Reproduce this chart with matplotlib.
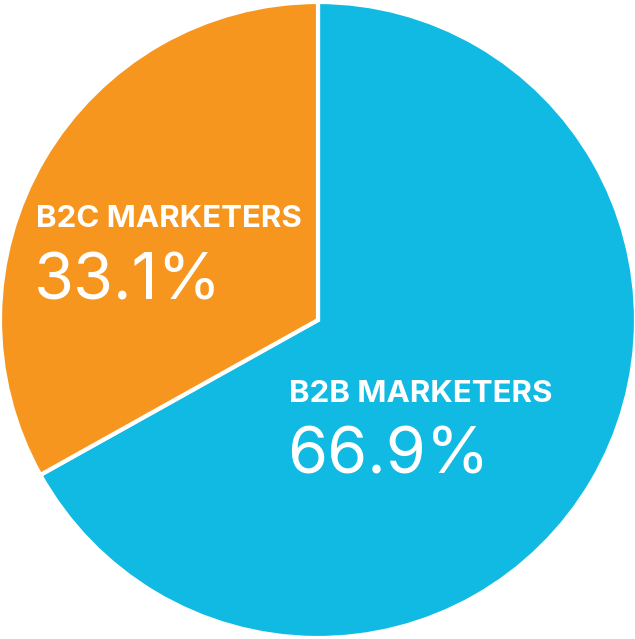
import matplotlib
matplotlib.use('Agg')
import matplotlib.pyplot as plt

# data
labels = ['B2B MARKETERS', 'B2C MARKETERS']
shares = [66.9, 33.1]
colors = ['#10BAE3', '#F7961F']

# pie geometry (pixels in the 635x639 picture)
cx, cy, r = 318, 320, 318

fig = plt.figure(figsize=(6.35, 6.39), dpi=100)
ax = fig.add_axes([0, 0, 1, 1])
ax.axis('off')

ax.pie(shares, colors=colors, startangle=90, counterclock=False,
       radius=1.0, wedgeprops=dict(edgecolor='white', linewidth=3))

ax.set_aspect('auto')
ax.set_xlim(-cx / r, (635 - cx) / r)
ax.set_ylim(-(639 - cy) / r, cy / r)

def px(x, y):
    return (x - cx) / r, (cy - y) / r

# label positions: (left x, label baseline, percent baseline)
spots = [(290, 402, 473), (37, 227, 300)]
for lab, val, (lx, by1, by2) in zip(labels, shares, spots):
    ax.text(*px(lx - 1, by1), lab, color='white', fontsize=22.5, fontweight='bold',
            family='Inter', ha='left', va='baseline')
    ax.text(*px(lx - 3, by2), f'{val}%', color='white', fontsize=46.5,
            family='Inter', ha='left', va='baseline')

fig.savefig('out.png', dpi=100)
